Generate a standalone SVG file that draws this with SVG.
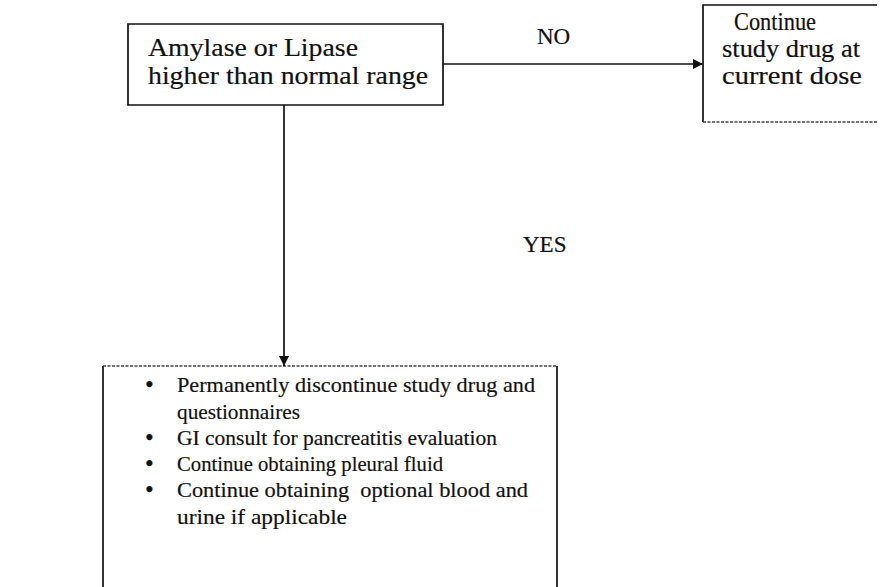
<svg xmlns="http://www.w3.org/2000/svg" width="887" height="587" viewBox="0 0 887 587">
  <defs>
    <style>
      .edge { stroke: #111; stroke-width: 1.7; fill: none; }
      .grainy { stroke: #444; stroke-width: 1.4; stroke-dasharray: 3 1.5; fill: none; }
      .wire { stroke: #111; stroke-width: 1.7; fill: none; }
      .dot { font-size: 25px; }
      text { fill: #111; stroke: #111; stroke-width: 0.2; }
    </style>
    <marker id="arrow" viewBox="0 0 10 10" refX="10" refY="5" markerWidth="11" markerHeight="10" markerUnits="userSpaceOnUse" orient="auto">
      <path d="M0,0 L10,5 L0,10 z" fill="#111"/>
    </marker>
  </defs>
  <rect width="887" height="587" fill="#fff"/>

  <!-- decision node -->
  <g id="check-enzymes" font-family="Liberation Serif, Times New Roman, serif" font-size="26">
    <path class="edge" d="M128,24 V105 H443 V24 Z"/>
    <text x="148" y="56" textLength="210" lengthAdjust="spacingAndGlyphs">Amylase or Lipase</text>
    <text x="148" y="84" textLength="280" lengthAdjust="spacingAndGlyphs">higher than normal range</text>
  </g>

  <!-- NO branch -->
  <g id="continue-dose" font-family="Liberation Serif, Times New Roman, serif" font-size="25">
    <path class="edge" d="M877,5 H703 V122"/>
    <path class="grainy" d="M703,122 H877"/>
    <text x="734" y="30" textLength="82" lengthAdjust="spacingAndGlyphs">Continue</text>
    <text x="722" y="57" textLength="138" lengthAdjust="spacingAndGlyphs">study drug at</text>
    <text x="722" y="84" textLength="140" lengthAdjust="spacingAndGlyphs">current dose</text>
  </g>

  <!-- YES branch -->
  <g id="discontinue" font-family="Liberation Serif, Times New Roman, serif" font-size="22">
    <path class="grainy" d="M103,366 H557"/>
    <path class="edge" d="M103,366 V590 M557,366 V590"/>
    <text class="dot" x="145" y="393">•</text>
    <text x="177" y="392" textLength="358" lengthAdjust="spacingAndGlyphs">Permanently discontinue study drug and</text>
    <text x="177" y="419" textLength="123" lengthAdjust="spacingAndGlyphs">questionnaires</text>
    <text class="dot" x="145" y="446">•</text>
    <text x="177" y="445" textLength="320" lengthAdjust="spacingAndGlyphs">GI consult for pancreatitis evaluation</text>
    <text class="dot" x="145" y="472">•</text>
    <text x="177" y="471" textLength="266" lengthAdjust="spacingAndGlyphs">Continue obtaining pleural fluid</text>
    <text class="dot" x="145" y="498">•</text>
    <text x="177" y="497" textLength="351" lengthAdjust="spacingAndGlyphs" xml:space="preserve">Continue obtaining  optional blood and</text>
    <text x="177" y="524" textLength="170" lengthAdjust="spacingAndGlyphs">urine if applicable</text>
  </g>

  <!-- connectors -->
  <g id="connectors" font-family="Liberation Serif, Times New Roman, serif" font-size="23">
    <line class="wire" x1="443" y1="64" x2="703" y2="64" marker-end="url(#arrow)"/>
    <line class="wire" x1="284" y1="105" x2="284" y2="366" marker-end="url(#arrow)"/>
    <text x="537" y="44">NO</text>
    <text x="523" y="252">YES</text>
  </g>
</svg>
